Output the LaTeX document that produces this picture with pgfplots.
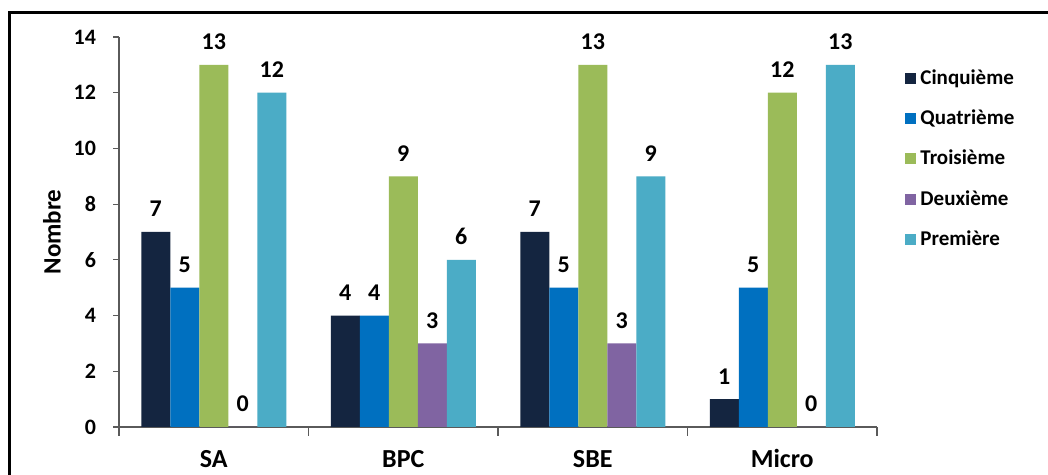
\documentclass[border=0pt]{standalone}
\usepackage{pgfplots}
\pgfplotsset{compat=1.18}
\usepackage{fontspec}
\setmainfont{Carlito}
\definecolor{cA}{RGB}{20,37,64}
\definecolor{cB}{RGB}{0,112,192}
\definecolor{cC}{RGB}{155,187,89}
\definecolor{cD}{RGB}{128,100,162}
\definecolor{cE}{RGB}{75,172,198}
\definecolor{axc}{RGB}{90,90,90}
\begin{document}
\begin{tikzpicture}
\path[use as bounding box] (0,0) rectangle (524pt,237.5pt);
\fill[white] (0,0) rectangle (524pt,237.5pt);
\draw[line width=1.1pt] (4.75pt,-5pt) -- (4.75pt,231.25pt) -- (530pt,231.25pt);
\begin{axis}[
  at={(59.5pt,24pt)}, anchor=south west,
  scale only axis, width=379pt, height=195pt,
  /pgf/number format/assume math mode=true,
  ybar=0pt, bar width=14.5pt,
  xmin=-0.5, xmax=3.5, ymin=0, ymax=14,
  enlargelimits=false,
  axis lines=left,
  axis line style={-, draw=axc, line width=0.6pt},
  tick align=outside,
  ytick={0,2,...,14},
  major tick length=3pt,
  ytick style={draw=axc, line width=0.6pt},
  yticklabel style={font=\bfseries\fontsize{11}{11}\selectfont, xshift=-5pt},
  xtick={0,1,2,3},
  xticklabels={SA,BPC,SBE,Micro},
  xtick style={draw=none},
  xticklabel style={font=\bfseries\fontsize{13}{13}\selectfont, yshift=-4.5pt, text height=9pt, text depth=0pt},
  extra x ticks={-0.5,0.5,1.5,2.5,3.5},
  extra x tick labels={},
  extra x tick style={xtick style={draw=axc, line width=0.6pt}, major tick length=4.5pt},
  ylabel={Nombre},
  ylabel style={at={(axis description cs:-0.0884,0.5)}, anchor=center, font=\bfseries\fontsize{12.5}{12.5}\selectfont},
  nodes near coords,
  every node near coord/.append style={font=\bfseries\fontsize{12}{12}\selectfont, anchor=south, yshift=4pt, black},
  legend style={at={(1.037,0.927)}, anchor=north west, draw=none, fill=none, inner sep=0pt,
    font=\bfseries\fontsize{10.5}{10.5}\selectfont, row sep=7.2pt},
  legend cell align=left,
  legend image code/.code={\fill[#1] (0pt,-2.75pt) rectangle (5.5pt,2.75pt);},
]
\addplot[fill=cA, draw=none] coordinates {(0,7) (1,4) (2,7) (3,1)};
\addplot[fill=cB, draw=none] coordinates {(0,5) (1,4) (2,5) (3,5)};
\addplot[fill=cC, draw=none] coordinates {(0,13) (1,9) (2,13) (3,12)};
\addplot[fill=cD, draw=none] coordinates {(0,0) (1,3) (2,3) (3,0)};
\addplot[fill=cE, draw=none] coordinates {(0,12) (1,6) (2,9) (3,13)};
\legend{Cinquième,Quatrième,Troisième,Deuxième,Première}
\end{axis}
\end{tikzpicture}
\end{document}
